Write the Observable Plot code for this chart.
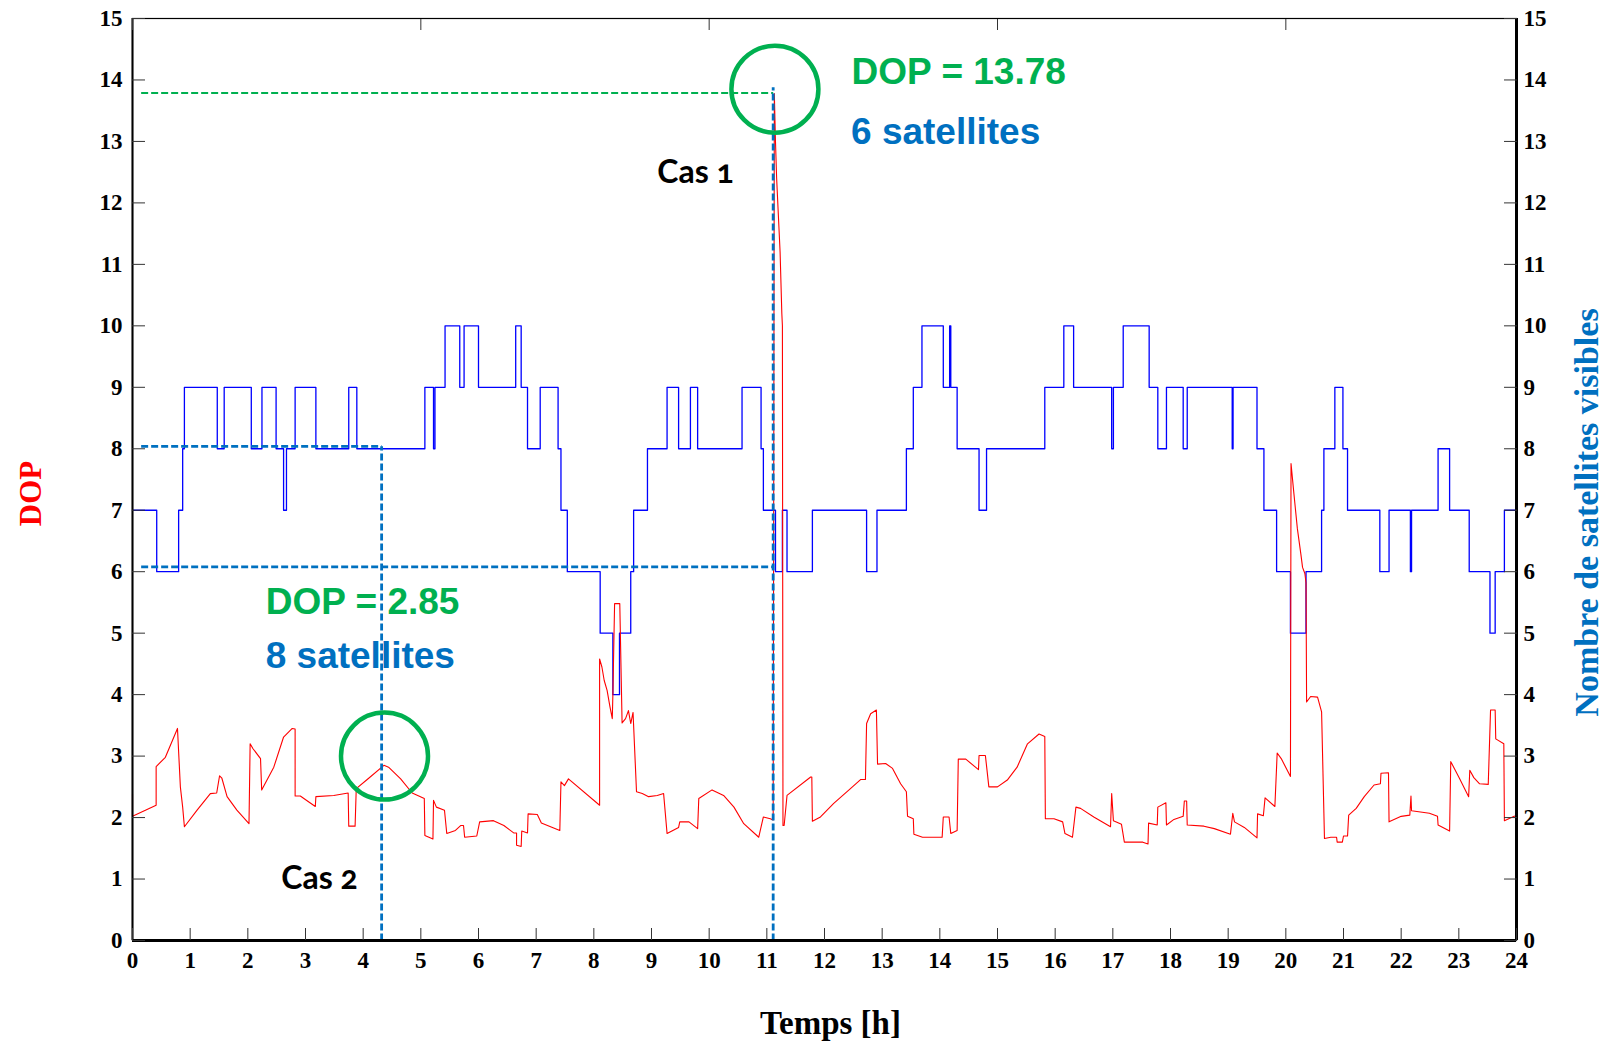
<!DOCTYPE html>
<html>
<head>
<meta charset="utf-8">
<script src="https://cdn.jsdelivr.net/npm/d3@7"></script>
<script src="https://cdn.jsdelivr.net/npm/@observablehq/plot@0.6"></script>
<style>
  html, body { margin: 0; padding: 0; background: #fff; }
  #chart svg { display: block; }
</style>
</head>
<body>
<div id="chart"></div>
<script>
// ---- Tick values ----
const hourTicks = d3.range(0, 25);
const levelTicks = d3.range(0, 16);
const topHourTicks = [0, 5, 10, 15, 20];

// ---- Nombre de satellites visibles (step series: change times, hours) ----
const satTime = [0, 0.42, 0.80, 0.87, 0.90, 1.47, 1.59, 2.06, 2.245, 2.49, 2.62, 2.67, 2.82, 3.18, 3.75, 3.89,
  5.07, 5.22, 5.245, 5.42, 5.675, 5.75, 6.00, 6.645, 6.74, 6.85, 7.07, 7.38, 7.43, 7.54, 8.11, 8.33, 8.445,
  8.64, 8.69, 8.93, 9.27, 9.47, 9.675, 9.80, 10.57, 10.90, 10.94, 11.15, 11.27, 11.35, 11.79, 12.73, 12.91,
  13.42, 13.54, 13.69, 14.06, 14.17, 14.19, 14.30, 14.68, 14.81, 15.82, 16.15, 16.32, 16.98, 17.01, 17.18,
  17.63, 17.78, 17.93, 18.22, 18.29, 19.07, 19.085, 19.50, 19.62, 19.84, 20.08, 20.35, 20.62, 20.66, 20.85,
  20.99, 21.07, 21.63, 21.79, 22.16, 22.18, 22.64, 22.84, 23.18, 23.54, 23.63, 23.79, 24];
const satCount = [7, 6, 7, 8, 9, 8, 9, 8, 9, 8, 7, 8, 9, 8, 9, 8,
  9, 8, 9, 10, 9, 10, 9, 10, 9, 8, 9, 8, 7, 6, 5, 4, 5,
  6, 7, 8, 9, 8, 9, 8, 9, 8, 7, 6, 7, 6, 7, 6, 7,
  8, 9, 10, 9, 10, 9, 8, 7, 8, 9, 10, 9, 8, 9, 10,
  9, 8, 9, 8, 9, 8, 9, 8, 7, 6, 5, 6, 7, 8, 9,
  8, 7, 6, 7, 6, 7, 8, 7, 6, 5, 6, 7, 7];

// ---- DOP ----
const dopTime = [0, 0, 0.41, 0.41, 0.57, 0.78, 0.83, 0.87, 0.90, 1.12, 1.35, 1.46, 1.51, 1.55, 1.64, 1.81, 2.02,
  2.04, 2.09, 2.22, 2.24, 2.45, 2.62, 2.77, 2.82, 2.82, 2.91, 3.17, 3.18, 3.49, 3.74, 3.75, 3.86, 3.88, 4.07,
  4.36, 4.44, 4.65, 4.85, 5.06, 5.07, 5.21, 5.22, 5.27, 5.41, 5.45, 5.60, 5.69, 5.74, 5.76, 5.97, 6.02, 6.26,
  6.44, 6.61, 6.66, 6.66, 6.74, 6.75, 6.85, 6.86, 7.02, 7.09, 7.25, 7.41, 7.43, 7.49, 7.56, 8.10, 8.10, 8.14,
  8.18, 8.23, 8.28, 8.32, 8.33, 8.36, 8.45, 8.49, 8.55, 8.60, 8.64, 8.68, 8.74, 8.84, 8.95, 9.10, 9.21, 9.27,
  9.47, 9.49, 9.65, 9.80, 9.82, 10.05, 10.25, 10.43, 10.60, 10.86, 10.94, 11.06, 11.11, 11.13, 11.15, 11.17,
  11.20, 11.23, 11.26, 11.27, 11.28, 11.30, 11.35, 11.76, 11.78, 11.79, 11.93, 12.16, 12.45, 12.63, 12.71,
  12.73, 12.80, 12.90, 12.92, 13.06, 13.18, 13.32, 13.42, 13.44, 13.54, 13.55, 13.70, 14.04, 14.06, 14.16,
  14.19, 14.30, 14.32, 14.45, 14.67, 14.68, 14.79, 14.85, 15.00, 15.17, 15.34, 15.52, 15.72, 15.82, 15.83,
  15.98, 16.13, 16.17, 16.30, 16.36, 16.44, 16.67, 16.96, 16.98, 17.01, 17.15, 17.20, 17.52, 17.61, 17.62,
  17.77, 17.78, 17.92, 17.93, 18.06, 18.22, 18.24, 18.28, 18.29, 18.58, 18.76, 19.04, 19.08, 19.11, 19.28,
  19.50, 19.51, 19.61, 19.64, 19.81, 19.85, 19.92, 20.08, 20.09, 20.14, 20.20, 20.26, 20.29, 20.33, 20.35,
  20.36, 20.43, 20.55, 20.62, 20.67, 20.78, 20.88, 20.89, 20.98, 21.00, 21.07, 21.09, 21.22, 21.36, 21.53,
  21.64, 21.65, 21.78, 21.79, 22.00, 22.15, 22.17, 22.18, 22.49, 22.63, 22.64, 22.84, 22.86, 23.01, 23.17,
  23.19, 23.26, 23.36, 23.51, 23.55, 23.63, 23.64, 23.78, 23.79, 23.96, 24.00];
const dopValue = [2.38, 2.02, 2.20, 2.83, 2.98, 3.45, 2.50, 2.17, 1.85, 2.12, 2.39, 2.40, 2.68, 2.64, 2.34, 2.12, 1.90,
  3.20, 3.12, 2.96, 2.45, 2.82, 3.31, 3.45, 3.44, 2.35, 2.35, 2.18, 2.34, 2.36, 2.40, 1.86, 1.86, 2.47, 2.62,
  2.85, 2.82, 2.63, 2.40, 2.31, 1.71, 1.65, 2.28, 2.17, 2.12, 1.74, 1.79, 1.87, 1.87, 1.68, 1.70, 1.93, 1.95,
  1.87, 1.75, 1.75, 1.55, 1.53, 1.78, 1.75, 2.06, 2.05, 1.91, 1.85, 1.79, 2.58, 2.52, 2.63, 2.20, 4.58, 4.45,
  4.23, 4.07, 3.80, 3.61, 3.99, 5.48, 5.48, 3.54, 3.61, 3.74, 3.53, 3.71, 2.42, 2.39, 2.34, 2.36, 2.39, 1.74,
  1.84, 1.93, 1.93, 1.82, 2.31, 2.45, 2.36, 2.17, 1.90, 1.68, 2.01, 1.98, 1.96, 13.78, 13.0, 12.4,
  11.8, 11.2, 10.2, 10.0, 1.87, 1.87, 2.36, 2.66, 2.66, 1.94, 2.01, 2.23, 2.47, 2.62, 2.62,
  3.53, 3.69, 3.75, 2.87, 2.88, 2.80, 2.55, 2.42, 2.02, 1.98, 1.73, 1.68, 1.68, 2.01, 2.01,
  1.74, 1.79, 2.95, 2.95, 2.78, 3.01, 3.01, 2.50, 2.50, 2.61, 2.82, 3.20, 3.36, 3.32, 1.98,
  1.98, 1.93, 1.74, 1.68, 2.17, 2.15, 2.01, 1.85, 2.39, 1.95, 1.89, 1.60, 1.60, 1.57, 1.91,
  1.88, 2.17, 2.24, 1.88, 1.97, 2.02, 2.27, 2.27, 1.88, 1.86, 1.82, 1.73, 2.07, 1.93, 1.84,
  1.67, 2.06, 2.03, 2.32, 2.18, 3.05, 2.96, 2.67, 7.76, 7.27, 6.70, 6.29, 6.07, 5.97, 5.82,
  3.88, 3.97, 3.96, 3.72, 1.66, 1.68, 1.68, 1.60, 1.60, 1.70, 1.70, 2.04, 2.15, 2.34, 2.53,
  2.55, 2.72, 2.73, 1.93, 2.02, 2.04, 2.35, 2.11, 2.07, 2.02, 1.88, 1.78, 2.91, 2.64, 2.34,
  2.77, 2.65, 2.55, 2.54, 3.75, 3.75, 3.28, 3.20, 1.95, 2.02, 2.03];

// ---- Guide lines (dashed) ----
const guideKind = ["dop", "sat", "sat", "sat", "sat"];
const guideX1 = [0.15, 11.11, 0.15, 0.15, 4.32];
const guideY1 = [13.79, 0, 6.08, 8.04, 0];
const guideX2 = [11.11, 11.11, 11.11, 4.32, 4.32];
const guideY2 = [13.79, 13.88, 6.08, 8.04, 8.04];

// ---- Highlight circles ----
const circleTime = [11.14, 4.37];
const circleDop = [13.85, 3.0];

// ---- Annotations ----
const noteText = ["DOP = 13.78", "6 satellites", "DOP = 2.85", "8 satellites"];
const noteKind = ["dop", "sat", "dop", "sat"];
const noteTime = [12.47, 12.46, 2.31, 2.31];
const noteValue = [14.13, 13.15, 5.50, 4.62];
const caseText = ["Cas 1", "Cas 2"];
const caseTime = [9.10, 2.58];
const caseValue = [12.49, 1.01];

// ---- Build tables ----
const satRows = satTime.map((t, i) => ({t, n: satCount[i]}));
const dopRows = dopTime.map((t, i) => ({t, v: dopValue[i]}));
const guideRows = guideKind.map((k, i) => ({k, x1: guideX1[i], y1: guideY1[i], x2: guideX2[i], y2: guideY2[i]}));
const circleRows = circleTime.map((t, i) => ({t, v: circleDop[i]}));
const noteRows = noteText.map((s, i) => ({s, k: noteKind[i], t: noteTime[i], v: noteValue[i]}));
const caseRows = caseText.map((s, i) => ({s, t: caseTime[i], v: caseValue[i]}));

const serif = '"Liberation Serif", "Times New Roman", serif';
const sans = '"Liberation Sans", Arial, sans-serif';
const GREEN = "#00b050", BLUE = "#0070c0";
const intFmt = d3.format("d");

const chart = Plot.plot({
  width: 1603,
  height: 1044,
  marginLeft: 132,
  marginRight: 87,
  marginTop: 18,
  marginBottom: 104,
  x: {domain: [0, 24]},
  y: {domain: [0, 15]},
  style: {background: "#fff", fontFamily: serif, color: "#000", overflow: "visible"},
  marks: [
    // satellites (blue step) and DOP (red)
    Plot.line(satRows, {x: "t", y: "n", curve: "step-after", stroke: "#0000ff", strokeWidth: 1.3}),
    Plot.line(dopRows, {x: "t", y: "v", stroke: "#ff0000", strokeWidth: 1.1}),

    // annotations
    Plot.text(noteRows.filter(d => d.k === "dop"), {x: "t", y: "v", text: "s", textAnchor: "start", lineAnchor: "middle",
      fill: GREEN, fontSize: 37, fontWeight: "bold", fontFamily: sans}),
    Plot.text(noteRows.filter(d => d.k === "sat"), {x: "t", y: "v", text: "s", textAnchor: "start", lineAnchor: "middle",
      fill: BLUE, fontSize: 37, fontWeight: "bold", fontFamily: sans}),
    Plot.text(caseRows, {x: "t", y: "v", text: "s", textAnchor: "start", lineAnchor: "middle",
      fill: "#000", fontSize: 32, fontWeight: "bold", fontFamily: 'Lato, "Open Sans", sans-serif', fontVariant: "oldstyle-nums"}),

    // dashed guides
    Plot.link(guideRows.filter(d => d.k === "dop"), {x1: "x1", y1: "y1", x2: "x2", y2: "y2",
      stroke: GREEN, strokeWidth: 2, strokeDasharray: "7,3"}),
    Plot.link(guideRows.filter(d => d.k === "sat"), {x1: "x1", y1: "y1", x2: "x2", y2: "y2",
      stroke: BLUE, strokeWidth: 2.8, strokeDasharray: "7,3"}),

    // circles
    Plot.dot(circleRows, {x: "t", y: "v", r: 43.5, stroke: GREEN, strokeWidth: 4.5, fill: "none"}),

    // frame & axis lines
    Plot.frame({stroke: "#000", strokeWidth: 1.2}),
    Plot.ruleY([0], {stroke: "#000", strokeWidth: 3}),
    Plot.ruleX([0], {stroke: "#000", strokeWidth: 2}),
    Plot.ruleX([24], {stroke: "#000", strokeWidth: 3}),

    // axes: labels
    Plot.axisY(levelTicks, {anchor: "left", tickSize: 0, tickPadding: 10, tickFormat: intFmt, fontSize: 23, fontWeight: "bold", fontFamily: serif, label: null}),
    Plot.axisY(levelTicks, {anchor: "right", tickSize: 0, tickPadding: 7, tickFormat: intFmt, fontSize: 23, fontWeight: "bold", fontFamily: serif, label: null}),
    Plot.axisX(hourTicks, {anchor: "bottom", tickSize: 0, tickPadding: 11, tickFormat: intFmt, fontSize: 23, fontWeight: "bold", fontFamily: serif, label: null}),
    // axes: inward ticks
    Plot.axisY(levelTicks, {anchor: "left", tickSize: -13, fill: "none", stroke: "#333", label: null}),
    Plot.axisY(levelTicks, {anchor: "right", tickSize: -13, fill: "none", stroke: "#333", label: null}),
    Plot.axisX(hourTicks, {anchor: "bottom", tickSize: -12, fill: "none", stroke: "#333", label: null}),
    Plot.axisX(topHourTicks, {anchor: "top", tickSize: -11, fill: "none", stroke: "#333", label: null}),

    // axis titles
    Plot.text(["DOP"], {frameAnchor: "left", textAnchor: "middle", lineAnchor: "middle", dx: -101, dy: 14, rotate: -90,
      fill: "#ff0000", fontSize: 31, fontWeight: "bold", fontFamily: serif}),
    Plot.text(["Nombre de satellites visibles"], {frameAnchor: "right", textAnchor: "middle", lineAnchor: "middle", dx: 71, dy: 33, rotate: -90,
      fill: BLUE, fontSize: 34, fontWeight: "bold", fontFamily: serif}),
    Plot.text(["Temps [h]"], {frameAnchor: "bottom", textAnchor: "middle", lineAnchor: "middle", dx: 6, dy: 83,
      fill: "#000", fontSize: 33, fontWeight: "bold", fontFamily: serif})
  ]
});

document.getElementById("chart").appendChild(chart);
</script>
</body>
</html>
